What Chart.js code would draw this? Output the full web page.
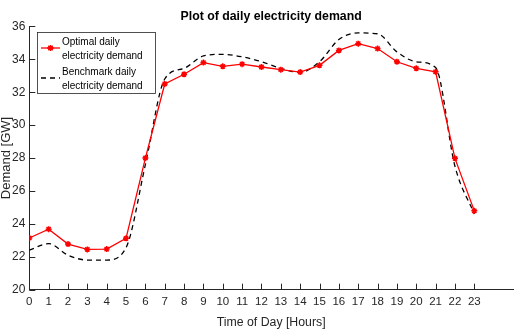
<!DOCTYPE html>
<html>
<head>
<meta charset="utf-8">
<script src="https://cdn.jsdelivr.net/npm/chart.js@4"></script>
<style>
  html, body { margin: 0; padding: 0; background: #fff; }
  #wrap { width: 514px; height: 330px; }
</style>
</head>
<body>
<div id="wrap"><canvas id="chart" width="514" height="330"></canvas></div>
<script>
// hours of the day
const hours = [0, 1, 2, 3, 4, 5, 6, 7, 8, 9, 10, 11, 12, 13, 14, 15, 16, 17, 18, 19, 20, 21, 22, 23];
// optimal daily electricity demand [GW]
const optimalDemand = [23.14, 23.68, 22.77, 22.45, 22.47, 23.12, 28.0, 32.5, 33.09, 33.8, 33.57, 33.7,
  33.53, 33.37, 33.22, 33.63, 34.54, 34.95, 34.65, 33.85, 33.45, 33.24, 27.98, 24.79];
// benchmark daily electricity demand [GW]
const benchmarkDemand = [22.4, 22.8, 22.1, 21.8, 21.8, 22.55, 27.6, 32.8, 33.45, 34.2, 34.3, 34.15,
  33.85, 33.45, 33.2, 33.85, 35.2, 35.6, 35.55, 34.45, 33.85, 33.5, 27.5, 24.6];
const yTicks = [20, 22, 24, 26, 28, 30, 32, 34, 36];
const legendLabels = [['Optimal daily', 'electricity demand'], ['Benchmark daily', 'electricity demand']];

const axisColor = '#262626';
const fontFamily = '"Liberation Sans", Arial, Helvetica, sans-serif';

function toPoints(values) {
    return hours.map((h, i) => ({ x: h, y: values[i] }));
}

// Center the title over the plot area instead of the whole canvas
const centerTitle = {
    id: 'centerTitle',
    afterLayout(chart) {
        if (chart.titleBlock) {
            chart.titleBlock.left = chart.chartArea.left;
            chart.titleBlock.right = chart.chartArea.right;
        }
    }
};

// Draw MATLAB style tick marks pointing into the plot
const innerTicks = {
    id: 'innerTicks',
    afterDatasetsDraw(chart) {
        const ctx = chart.ctx;
        const xs = chart.scales.x;
        const ys = chart.scales.y;
        const area = chart.chartArea;
        ctx.save();
        ctx.strokeStyle = axisColor;
        ctx.lineWidth = 1;
        ctx.beginPath();
        xs.ticks.forEach(t => {
            const px = Math.round(xs.getPixelForValue(t.value)) + 0.5;
            ctx.moveTo(px, area.bottom);
            ctx.lineTo(px, area.bottom - 6);
        });
        ys.ticks.forEach(t => {
            const py = Math.round(ys.getPixelForValue(t.value)) + 0.5;
            ctx.moveTo(area.left, py);
            ctx.lineTo(area.left + 6, py);
        });
        ctx.stroke();
        ctx.restore();
    }
};

// Boxed legend with two line labels, top left of the plot
const boxLegend = {
    id: 'boxLegend',
    afterDraw(chart) {
        const ctx = chart.ctx;
        const bx = 37.5, by = 32.5, bw = 118, bh = 61;
        ctx.save();
        ctx.fillStyle = '#fff';
        ctx.fillRect(bx, by, bw, bh);
        ctx.strokeStyle = axisColor;
        ctx.lineWidth = 0.8;
        ctx.strokeRect(bx, by, bw, bh);

        const sets = chart.data.datasets;
        const rows = [48, 78];
        sets.forEach((ds, i) => {
            const y = rows[i];
            ctx.beginPath();
            ctx.strokeStyle = ds.borderColor;
            ctx.lineWidth = ds.borderWidth;
            ctx.setLineDash(ds.borderDash || []);
            ctx.moveTo(41, y);
            ctx.lineTo(60, y);
            ctx.stroke();
            ctx.setLineDash([]);
            if (ds.pointRadius > 0) {
                ctx.fillStyle = ds.pointBackgroundColor;
                Chart.helpers.drawPoint(ctx, {
                    pointStyle: ds.pointStyle,
                    radius: ds.pointRadius,
                    borderWidth: ds.pointBorderWidth
                }, 50.5, y);
                ctx.stroke();
            }
            ctx.fillStyle = '#000';
            ctx.font = '10px ' + fontFamily;
            ctx.textBaseline = 'middle';
            ctx.textAlign = 'left';
            legendLabels[i].forEach((line, j) => {
                ctx.fillText(line, 62, y - 6 + j * 14);
            });
        });
        ctx.restore();
    }
};

const ctx = document.getElementById('chart').getContext('2d');
const chart = new Chart(ctx, {
    type: 'line',
    data: {
        datasets: [{
            label: 'Optimal daily electricity demand',
            data: toPoints(optimalDemand),
            borderColor: '#ff0000',
            backgroundColor: '#ff0000',
            borderWidth: 1.3,
            pointStyle: 'star',
            pointRadius: 3,
            pointBorderWidth: 1.5,
            pointBorderColor: '#ff0000',
            pointBackgroundColor: '#ff0000',
            tension: 0
        }, {
            label: 'Benchmark daily electricity demand',
            data: toPoints(benchmarkDemand),
            borderColor: '#000000',
            backgroundColor: '#000000',
            borderWidth: 1.3,
            borderDash: [5, 4],
            pointRadius: 0,
            cubicInterpolationMode: 'monotone'
        }]
    },
    options: {
        responsive: false,
        animation: false,
        events: [],
        layout: { autoPadding: false, padding: { right: 1 } },
        plugins: {
            legend: { display: false },
            tooltip: { enabled: false },
            title: {
                display: true,
                text: 'Plot of daily electricity demand',
                color: '#000',
                font: { family: fontFamily, size: 12.3, weight: 'bold', lineHeight: 1.2 },
                padding: { top: 9, bottom: 2.6 }
            }
        },
        scales: {
            x: {
                type: 'linear',
                min: 0,
                max: 25,
                afterBuildTicks: scale => {
                    scale.ticks = hours.map(h => ({ value: h }));
                },
                afterFit: scale => {
                    scale.height = 40.3;
                    scale.paddingLeft = 0;
                    scale.paddingRight = 0;
                },
                grid: { display: true, drawOnChartArea: false, drawTicks: false },
                border: { display: true, color: axisColor, width: 1 },
                ticks: {
                    color: axisColor,
                    padding: 5,
                    maxRotation: 0,
                    autoSkip: false,
                    font: { family: fontFamily, size: 11.5 }
                },
                title: {
                    display: true,
                    text: 'Time of Day [Hours]',
                    color: axisColor,
                    padding: { top: 6, bottom: 0 },
                    font: { family: fontFamily, size: 12.3 }
                }
            },
            y: {
                type: 'linear',
                min: 20,
                max: 36,
                afterBuildTicks: scale => {
                    scale.ticks = yTicks.map(v => ({ value: v }));
                },
                afterFit: scale => { scale.width = 29.3; },
                grid: { display: true, drawOnChartArea: false, drawTicks: false },
                border: { display: true, color: axisColor, width: 1 },
                ticks: {
                    color: axisColor,
                    padding: 4,
                    font: { family: fontFamily, size: 12 }
                },
                title: {
                    display: true,
                    text: 'Demand [GW]',
                    color: axisColor,
                    padding: { top: 0, bottom: 0 },
                    font: { family: fontFamily, size: 13, lineHeight: 1 }
                }
            }
        }
    },
    plugins: [centerTitle, innerTicks, boxLegend]
});
</script>
</body>
</html>
